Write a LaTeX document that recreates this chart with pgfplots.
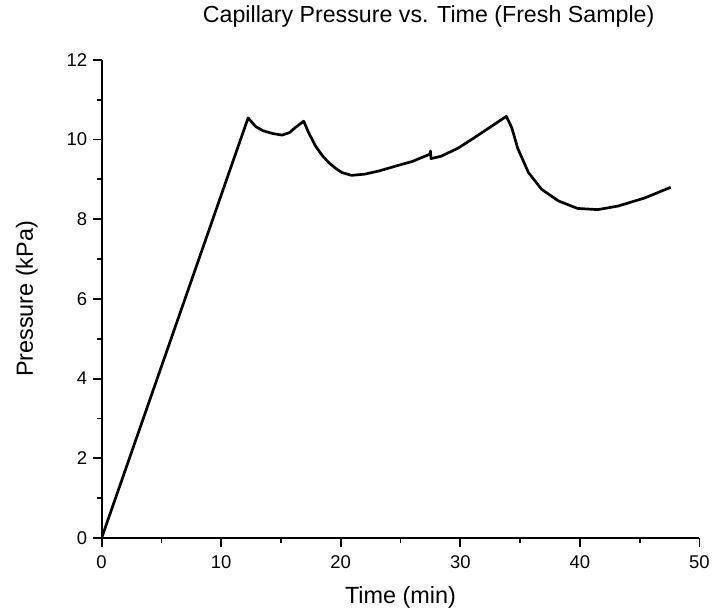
\documentclass[border=0pt]{standalone}
\usepackage{fontspec}
\setmainfont{Liberation Sans}
\usepackage{pgfplots}
\pgfplotsset{compat=1.18}

\begin{document}
\begin{tikzpicture}
\begin{axis}[
    scale only axis,
    width=600pt, height=480pt,
    xmin=0, xmax=50, ymin=0, ymax=12,
    axis x line*=bottom, axis y line*=left,
    xtick={0,10,...,50}, ytick={0,2,...,12},
    minor x tick num=1, minor y tick num=1,
    tick align=outside,
    major tick length=9pt, minor tick length=5pt,
    every tick/.style={black, line width=1.8pt},
    axis line style={line width=1.8pt},
    ticklabel style={font=\fontsize{18.5}{21}\selectfont},
    xticklabel style={yshift=-5pt},
    yticklabel style={xshift=-2pt},
    /pgf/number format/assume math mode=true,
    xlabel={Time (min)}, ylabel={Pressure (kPa)},
    label style={font=\fontsize{23.5}{27}\selectfont},
    xlabel style={at={(axis description cs:0.5,-0.125)}, anchor=center},
    ylabel style={at={(axis description cs:-0.125,0.5)}, anchor=center},
    title={Capillary Pressure vs. Time (Fresh Sample)},
    title style={font=\fontsize{23.3}{27}\selectfont, at={(axis description cs:0.547,1.0646)}, anchor=base},
]
\addplot[black, line width=2.7pt, line join=round] coordinates {
    (0,0) (12.25,10.54) (12.6,10.42) (12.9,10.32) (13.5,10.22) (14.3,10.15)
    (15.1,10.11) (15.7,10.17) (16.2,10.30) (16.9,10.46) (17.3,10.18)
    (17.9,9.83) (18.5,9.58) (19.0,9.42) (19.6,9.27) (20.1,9.17) (20.9,9.10)
    (22.0,9.13) (23.2,9.21) (24.8,9.35) (26.0,9.45) (26.8,9.55) (27.45,9.63)
    (27.5,9.71) (27.55,9.52) (28.4,9.58) (29.8,9.78) (31.2,10.05) (32.6,10.33)
    (33.85,10.58) (34.3,10.30) (34.8,9.78) (35.7,9.17) (36.8,8.75) (38.2,8.46)
    (39.8,8.27) (41.5,8.24) (43.2,8.33) (45.4,8.53) (47.6,8.80)
};
\end{axis}
\useasboundingbox (-102pt,-76pt) rectangle (611pt,540pt);
\end{tikzpicture}
\end{document}
